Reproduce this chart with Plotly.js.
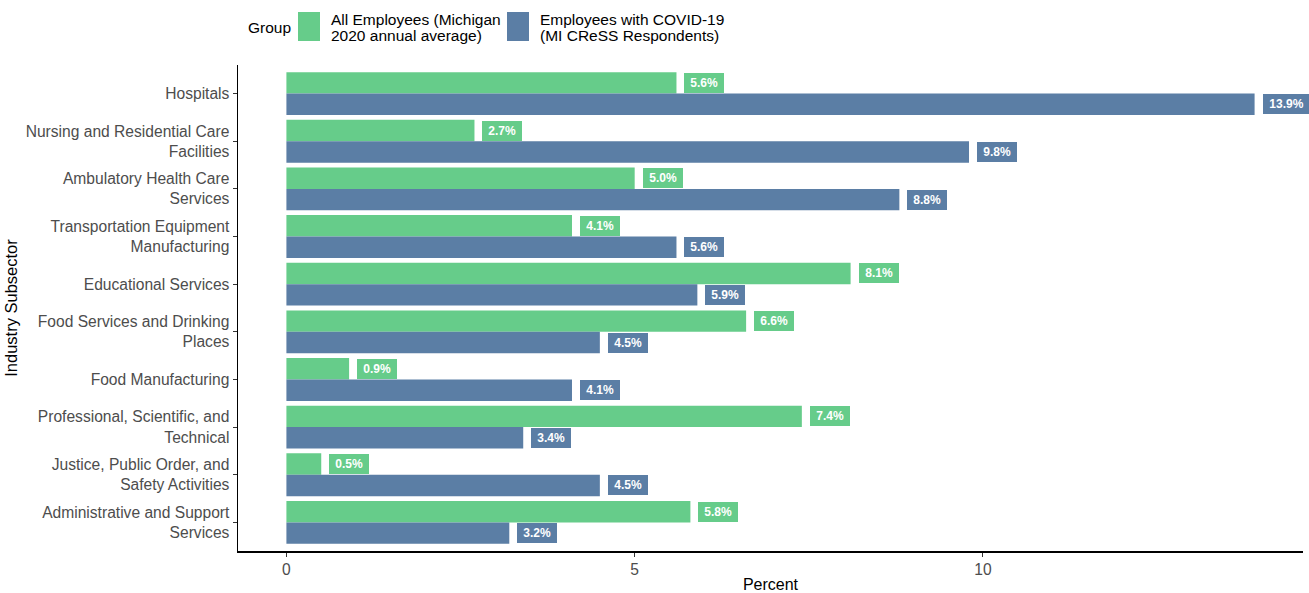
<!DOCTYPE html>
<html>
<head>
<meta charset="utf-8">
<script src="https://cdn.plot.ly/plotly-3.0.1.min.js"></script>
<style>
  html, body { margin: 0; padding: 0; background: #fff; }
  #chart { width: 1309px; height: 593px; }
</style>
</head>
<body>
<div id="chart"></div>
<script>
// Industry subsectors, top to bottom
const subsectors = [
  "Hospitals",
  "Nursing and Residential Care<br>Facilities",
  "Ambulatory Health Care<br>Services",
  "Transportation Equipment<br>Manufacturing",
  "Educational Services",
  "Food Services and Drinking<br>Places",
  "Food Manufacturing",
  "Professional, Scientific, and<br>Technical",
  "Justice, Public Order, and<br>Safety Activities",
  "Administrative and Support<br>Services"
];

// Percent of employees in each subsector
const allEmployees = [5.6, 2.7, 5.0, 4.1, 8.1, 6.6, 0.9, 7.4, 0.5, 5.8];
const covidEmployees = [13.9, 9.8, 8.8, 5.6, 5.9, 4.5, 4.1, 3.4, 4.5, 3.2];

const legendTitle = "Group";
const groupNames = [
  "All Employees (Michigan<br>2020 annual average)",
  "Employees with COVID-19<br>(MI CReSS Respondents)"
];

const GREEN = "#66CC8A";
const BLUE = "#5B7EA5";
const groupColors = [GREEN, BLUE];
const FONT = "Liberation Sans, Arial, sans-serif";

const W = 1309, H = 593;
const M = { l: 238, r: 6, t: 65, b: 42 };
const plotW = W - M.l - M.r, plotH = H - M.t - M.b;
// pixel position on the page -> paper coordinates
const px = x => (x - M.l) / plotW;
const py = y => (H - M.b - y) / plotH;

const traces = [allEmployees, covidEmployees].map((vals, k) => ({
  type: "bar", orientation: "h",
  name: groupNames[k],
  y: subsectors, x: vals,
  marker: { color: groupColors[k] },
  showlegend: false,
  hoverinfo: "x+y"
}));

// Value labels: boxed text just past the end of each bar
const barOffset = 0.225;
const annotations = [];
function addLabels(values, offset, color) {
  values.forEach((v, i) => {
    annotations.push({
      x: v, y: i + offset, xref: "x", yref: "y",
      text: "&nbsp;<b>" + v.toFixed(1) + "%</b>&nbsp;",
      showarrow: false,
      xanchor: "left", yanchor: "middle",
      xshift: 8,
      font: { family: FONT, size: 12, color: "#ffffff" },
      bgcolor: color, bordercolor: color, borderwidth: 1, borderpad: 2
    });
  });
}
addLabels(allEmployees, -barOffset, GREEN);
addLabels(covidEmployees, barOffset, BLUE);

// Legend drawn above the panel: title, colour keys and two-line labels
const shapes = [];
const legendFont = { family: FONT, size: 15.5, color: "#000" };
annotations.push({
  xref: "paper", yref: "paper", x: px(246), y: py(27),
  xanchor: "left", yanchor: "middle", showarrow: false,
  text: legendTitle, font: legendFont
});
const keyLeft = [298, 507];
groupNames.forEach((name, k) => {
  shapes.push({
    type: "rect", xref: "paper", yref: "paper",
    x0: px(keyLeft[k]), x1: px(keyLeft[k] + 22),
    y0: py(41), y1: py(12),
    fillcolor: groupColors[k], line: { width: 0 }
  });
  name.split("<br>").forEach((line, j) => {
    annotations.push({
      xref: "paper", yref: "paper",
      x: px(keyLeft[k] + 31), y: py(19 + j * 16.5),
      xanchor: "left", yanchor: "middle", showarrow: false,
      text: line, font: legendFont
    });
  });
});

const layout = {
  width: W, height: H,
  margin: M,
  paper_bgcolor: "#ffffff", plot_bgcolor: "#ffffff",
  font: { family: FONT, size: 15.6, color: "#4d4d4d" },
  barmode: "group",
  bargap: 0.1, bargroupgap: 0,
  showlegend: false,
  xaxis: {
    range: [-0.695, 14.595],
    tickvals: [0, 5, 10],
    ticktext: ["0", "5", "10"],
    showgrid: false, zeroline: false,
    showline: true, linecolor: "#000", linewidth: 1.5,
    ticks: "outside", ticklen: 4, tickcolor: "#333", tickwidth: 1,
    tickfont: { family: FONT, size: 15.6, color: "#4d4d4d" },
    title: { text: "Percent", font: { family: FONT, size: 16, color: "#000" }, standoff: 4 }
  },
  yaxis: {
    type: "category",
    range: [9.6, -0.6],
    showgrid: false, zeroline: false,
    showline: true, linecolor: "#000", linewidth: 1.5,
    ticks: "outside", ticklen: 4, tickcolor: "#333", tickwidth: 1,
    tickfont: { family: FONT, size: 15.6, color: "#4d4d4d" },
    title: { text: "Industry Subsector", font: { family: FONT, size: 16.5, color: "#000" }, standoff: 4 }
  },
  shapes: shapes,
  annotations: annotations
};

Plotly.newPlot("chart", traces, layout, { staticPlot: true, displayModeBar: false });
</script>
</body>
</html>
